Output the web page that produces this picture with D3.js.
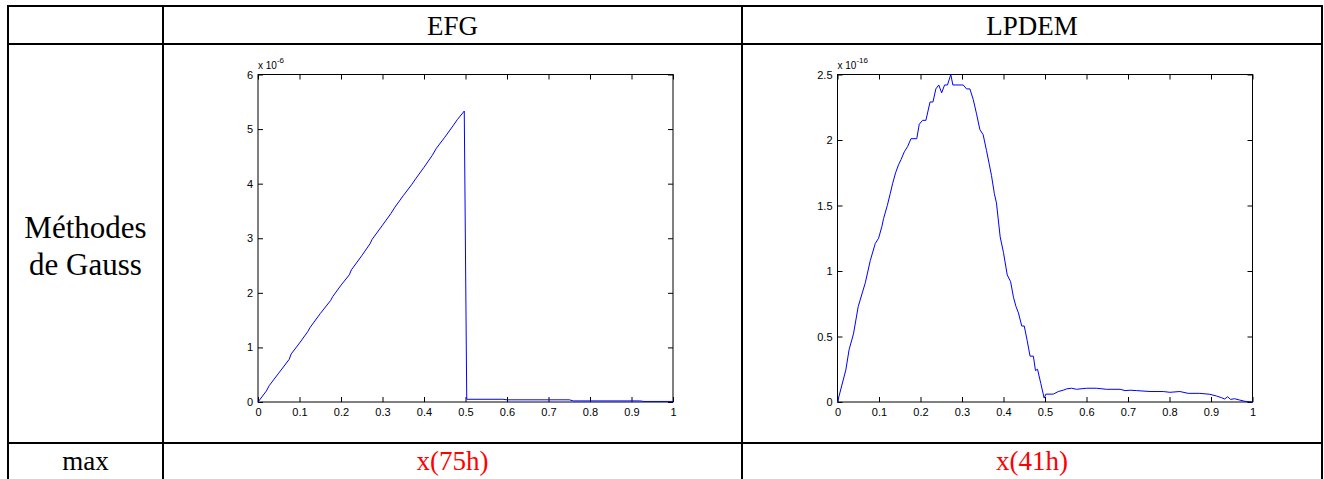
<!DOCTYPE html>
<html>
<head>
<meta charset="utf-8">
<script src="https://cdn.jsdelivr.net/npm/d3@7"></script>
<style>
  body { margin: 0; background: #fff; }
  svg { display: block; }
  .cell { font-family: "Liberation Serif", "Times New Roman", serif; font-size: 27px; }
  .side { font-size: 31px; }
  .tick text { font-family: "Liberation Sans", Arial, sans-serif; font-size: 11px; fill: #000; }
  .tick line { stroke: #000; }
</style>
</head>
<body>
<svg></svg>
<script>
// table layout
colEdges = [8, 163, 742, 1322]
rowEdges = [6, 44, 443, 481]

headers = ["EFG", "LPDEM"]
rowLabel = ["Méthodes", "de Gauss"]
maxLabel = "max"
maxValues = ["x(75h)", "x(41h)"]

xTicks = [0, 0.1, 0.2, 0.3, 0.4, 0.5, 0.6, 0.7, 0.8, 0.9, 1]

// EFG error, units of 1e-6
efgTicks = [0, 1, 2, 3, 4, 5, 6]
efgX = [0, 0.02, 0.027, 0.05, 0.075, 0.08, 0.1, 0.12, 0.125, 0.15, 0.175, 0.18, 0.2, 0.22, 0.225,
  0.25, 0.27, 0.275, 0.3, 0.32, 0.33, 0.35, 0.37, 0.38, 0.4, 0.42, 0.43, 0.45, 0.47, 0.48, 0.497,
  0.503, 0.59, 0.6, 0.75, 0.76, 0.92, 0.93, 1]
efgY = [0, 0.2, 0.3, 0.53, 0.78, 0.88, 1.08, 1.29, 1.36, 1.62, 1.86, 1.93, 2.14, 2.33, 2.42,
  2.68, 2.9, 2.98, 3.24, 3.45, 3.57, 3.78, 3.98, 4.09, 4.3, 4.52, 4.65, 4.85, 5.06, 5.17, 5.33,
  0.05, 0.05, 0.04, 0.04, 0.02, 0.02, 0.01, 0.01]

// LPDEM error, units of 1e-16
lpdemTicks = [0, 0.5, 1, 1.5, 2, 2.5]
lpdemX = [0, 0.02, 0.028, 0.0385, 0.05, 0.067, 0.079, 0.091, 0.099, 0.107, 0.111, 0.12, 0.127,
  0.133, 0.14, 0.147, 0.153, 0.161, 0.169, 0.177, 0.191, 0.197, 0.205, 0.213, 0.223, 0.23, 0.237,
  0.244, 0.251, 0.258, 0.265, 0.273, 0.278, 0.303, 0.311, 0.319, 0.327, 0.335, 0.343, 0.351,
  0.359, 0.366, 0.371, 0.378, 0.383, 0.392, 0.4, 0.409, 0.417, 0.424, 0.43, 0.436, 0.444, 0.45,
  0.457, 0.464, 0.472, 0.477, 0.482, 0.49, 0.498, 0.502, 0.52, 0.532, 0.544, 0.552, 0.564, 0.576,
  0.6, 0.624, 0.648, 0.681, 0.693, 0.705, 0.721, 0.753, 0.785, 0.801, 0.825, 0.845, 0.873, 0.897,
  0.913, 0.925, 0.933, 0.94, 0.947, 0.957, 0.969, 0.982, 1]
lpdemY = [0, 0.244, 0.4, 0.52, 0.73, 0.91, 1.08, 1.21, 1.25, 1.34, 1.4, 1.5, 1.59,
  1.67, 1.75, 1.81, 1.85, 1.91, 1.95, 2.01, 2.01, 2.12, 2.15, 2.15, 2.29, 2.29, 2.39,
  2.42, 2.36, 2.42, 2.42, 2.5, 2.42, 2.42, 2.39, 2.39, 2.31, 2.2, 2.08, 2.04,
  1.92, 1.81, 1.73, 1.59, 1.52, 1.26, 1.14, 0.97, 0.92, 0.8, 0.73, 0.68, 0.58, 0.58,
  0.47, 0.35, 0.35, 0.24, 0.25, 0.14, 0.03, 0.06, 0.06, 0.08, 0.09, 0.1, 0.105, 0.097,
  0.105, 0.105, 0.097, 0.097, 0.087, 0.09, 0.087, 0.08, 0.08, 0.074, 0.08, 0.066, 0.066, 0.059,
  0.046, 0.033, 0.023, 0.04, 0.02, 0.025, 0.015, 0.005, 0]

const svg = d3.select("svg").attr("width", 1324).attr("height", 479)

svg.append("rect").attr("width", 1324).attr("height", 479).attr("fill", "#fff")

// grid lines of the table
const grid = svg.append("g").attr("stroke", "#000").attr("stroke-width", 2)
colEdges.forEach(x => grid.append("line")
  .attr("x1", x).attr("x2", x).attr("y1", rowEdges[0] - 1).attr("y2", rowEdges[3]))
rowEdges.slice(0, 3).forEach(y => grid.append("line")
  .attr("x1", colEdges[0] - 1).attr("x2", colEdges[3] + 1).attr("y1", y).attr("y2", y))

const mid = (a, b) => (a + b) / 2

headers.forEach((h, i) => svg.append("text")
  .attr("class", "cell")
  .attr("x", mid(colEdges[i + 1], colEdges[i + 2]))
  .attr("y", 35)
  .attr("text-anchor", "middle")
  .text(h))

rowLabel.forEach((t, i) => svg.append("text")
  .attr("class", "cell side")
  .attr("x", mid(colEdges[0], colEdges[1]))
  .attr("y", 238 + i * 37)
  .attr("text-anchor", "middle")
  .text(t))

svg.append("text")
  .attr("class", "cell")
  .attr("x", mid(colEdges[0], colEdges[1]))
  .attr("y", 470)
  .attr("text-anchor", "middle")
  .text(maxLabel)

maxValues.forEach((t, i) => svg.append("text")
  .attr("class", "cell")
  .attr("x", mid(colEdges[i + 1], colEdges[i + 2]))
  .attr("y", 470)
  .attr("text-anchor", "middle")
  .attr("fill", "#ff0000")
  .text(t))

// one matlab-style plot per cell
const drawPanel = (box, xs, ys, yTicks, exponent) => {
  const x = d3.scaleLinear().domain([0, 1]).range([box.left, box.right])
  const y = d3.scaleLinear().domain([0, d3.max(yTicks)]).range([box.bottom, box.top])
  const fmt = d => String(d)
  const tick = 5

  const g = svg.append("g")

  g.append("g")
    .attr("transform", `translate(0,${box.bottom})`)
    .call(d3.axisBottom(x).tickValues(xTicks).tickFormat(fmt).tickSize(-tick).tickPadding(6))
    .call(g => g.select(".domain").remove())
  g.append("g")
    .attr("transform", `translate(0,${box.top})`)
    .call(d3.axisTop(x).tickValues(xTicks).tickFormat("").tickSize(-tick))
    .call(g => g.select(".domain").remove())
  g.append("g")
    .attr("transform", `translate(${box.left},0)`)
    .call(d3.axisLeft(y).tickValues(yTicks).tickFormat(fmt).tickSize(-tick).tickPadding(5))
    .call(g => g.select(".domain").remove())
  g.append("g")
    .attr("transform", `translate(${box.right},0)`)
    .call(d3.axisRight(y).tickValues(yTicks).tickFormat("").tickSize(-tick))
    .call(g => g.select(".domain").remove())

  g.append("rect")
    .attr("x", box.left).attr("y", box.top)
    .attr("width", box.right - box.left).attr("height", box.bottom - box.top)
    .attr("fill", "none").attr("stroke", "#000").attr("stroke-width", 1)

  const line = d3.line().x(d => x(d[0])).y(d => y(d[1]))
  g.append("path")
    .datum(d3.zip(xs, ys))
    .attr("fill", "none")
    .attr("stroke", "#0000ff")
    .attr("stroke-width", 1)
    .attr("d", line)

  const label = g.append("text")
    .attr("x", box.left)
    .attr("y", box.top - 6)
    .attr("font-family", "Liberation Sans, Arial, sans-serif")
    .attr("font-size", 10)
  label.append("tspan").text("x 10")
  label.append("tspan").attr("dy", -6).attr("font-size", 8).text(exponent)
}

drawPanel({ left: 258, right: 673, top: 74.5, bottom: 402 }, efgX, efgY, efgTicks, "-6")
drawPanel({ left: 837.5, right: 1252.5, top: 74.5, bottom: 402 }, lpdemX, lpdemY, lpdemTicks, "-16")
</script>
</body>
</html>
